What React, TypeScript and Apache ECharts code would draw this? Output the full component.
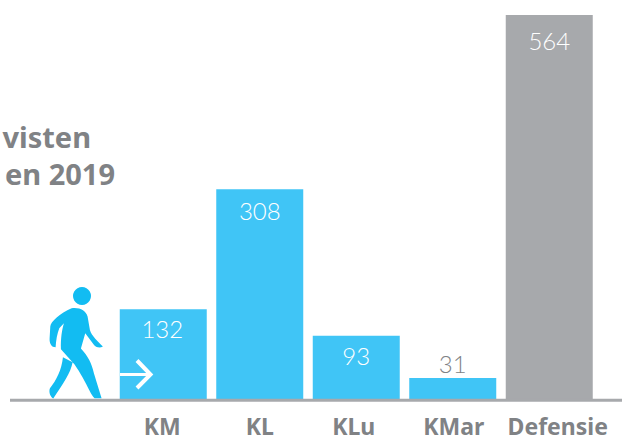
import React, { useEffect, useRef } from "react";
import * as echarts from "echarts";

const categories = ["KM", "KL", "KLu", "KMar", "Defensie"];
const values = [132, 308, 93, 31, 564];
const titleLines = ["visten", "en 2019"];

const BLUE = "#40c5f6";
const GREY = "#a7a9ac";
const TEXT = "#808285";
const WALKER = "#12bcf2";
const NUM_FONT = "Lato";
const TXT_FONT = "Noto Sans";

const walkerBody =
  "M215,115 C240,112 258,122 263,140 L270,180 C275,198 295,215 309,230 C300,235 290,233 283,226 L256,190 L243,236 C265,260 275,280 282,310 L305,385 L284,385 C270,372 262,340 224,284 L183,238 C182,205 186,180 192,160 L178,175 C172,190 168,212 167,232 C155,232 148,222 149,205 L151,170 C152,155 180,130 215,115 Z " +
  "M189,262 L218,277 C212,310 190,340 160,386 C150,380 146,365 150,355 C170,330 185,300 189,262 Z";

echarts.graphic.registerShape("walker", echarts.graphic.extendPath(walkerBody, {}));

export default function App() {
  const ref = useRef<HTMLDivElement>(null);
  useEffect(() => {
    document.body.style.margin = "0";
    const chart = echarts.init(ref.current!, undefined, { renderer: "svg" });
    // hand placement of the reference's labels, per category
    const axisPads = [
      [0, 2, 0, 0],
      [0, 0, 0, 0],
      [0, 5, 0, 0],
      [0, 0, 0, 2],
      [0, 0, 0, 17],
    ];
    const labelDistance = [7, 9, 8, 2, 13];
    const labelShift = [-1, 0, 0, 0, 0];
    chart.setOption({
      animation: false,
      backgroundColor: "#ffffff",
      grid: { left: 115, right: 24.5, top: 15, bottom: 42, containLabel: false },
      xAxis: {
        type: "category",
        data: categories.map((c, i) => ({ value: c, textStyle: { padding: axisPads[i] } })),
        axisLine: { show: false },
        axisTick: { show: false },
        axisLabel: {
          color: TEXT,
          fontFamily: TXT_FONT,
          fontWeight: 700,
          fontSize: 23,
          lineHeight: 18,
          margin: 18,
          interval: 0,
          hideOverlap: false,
        },
      },
      yAxis: { type: "value", min: 0, max: 564, show: false },
      series: [
        {
          type: "bar",
          barWidth: 87,
          silent: true,
          data: values.map((v, i) => ({
            value: v,
            itemStyle: { color: i === 4 ? GREY : BLUE },
            label: {
              show: true,
              position: v < 50 ? "top" : "insideTop",
              distance: labelDistance[i],
              offset: [labelShift[i], 0],
              color: v < 50 ? TEXT : "#ffffff",
              fontFamily: NUM_FONT,
              fontWeight: 300,
              fontSize: 24,
            },
          })),
        },
      ],
      graphic: [
        {
          type: "line",
          z: 10,
          shape: { x1: 10, y1: 400.3, x2: 622, y2: 400.3 },
          style: { stroke: GREY, lineWidth: 3 },
        },
        {
          type: "text",
          z: 10,
          x: 91,
          y: 136.5,
          style: {
            text: titleLines[0],
            fill: TEXT,
            font: `700 29px "${TXT_FONT}"`,
            lineHeight: 30,
            textAlign: "right",
            textVerticalAlign: "middle",
          },
        },
        {
          type: "text",
          z: 10,
          x: 115,
          y: 173,
          style: {
            text: titleLines[1],
            fill: TEXT,
            font: `700 29px "${TXT_FONT}"`,
            lineHeight: 30,
            textAlign: "right",
            textVerticalAlign: "middle",
          },
        },
        {
          type: "circle",
          z: 10,
          shape: { cx: 82, cy: 296, r: 9 },
          style: { fill: WALKER },
        },
        {
          type: "walker",
          z: 10,
          x: 0,
          y: 270,
          scaleX: 1 / 3,
          scaleY: 1 / 3,
          style: { fill: WALKER },
        },
        {
          type: "line",
          z: 10,
          shape: { x1: 120, y1: 374.5, x2: 150, y2: 374.5 },
          style: { stroke: "#ffffff", lineWidth: 3 },
        },
        {
          type: "polyline",
          z: 10,
          shape: { points: [[137, 360.5], [150.5, 374.5], [137, 388]] },
          style: { stroke: "#ffffff", lineWidth: 4, fill: "none" },
        },
      ],
    });
    return () => chart.dispose();
  }, []);
  return <div ref={ref} style={{ width: 622, height: 441 }} />;
}
